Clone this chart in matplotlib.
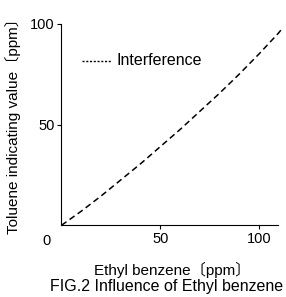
import matplotlib
matplotlib.use("Agg")
import matplotlib.pyplot as plt

plt.rcParams['font.family'] = ['Liberation Sans', 'Noto Sans CJK JP', 'DejaVu Sans']

ethyl = [0, 10, 20, 30, 40, 50, 60, 70, 80, 90, 100, 110, 112]
toluene = [0, 7, 14.5, 22.5, 30.5, 39, 47.5, 56.5, 65.5, 75, 85, 95.5, 98]
xticks = [50, 100]
yticks = [50, 100]
series_label = "Interference"

fig = plt.figure(figsize=(2.86, 2.97), dpi=100)
ax = fig.add_axes([0.215, 0.2414, 0.757, 0.6788])

ax.plot(ethyl, toluene, color='black', lw=1.1, ls=(0, (4, 2.5)), clip_on=False)

ax.set_xlim(0, 109.6)
ax.set_ylim(0, 100)
ax.spines['top'].set_visible(False)
ax.spines['right'].set_visible(False)
for s in ax.spines.values():
    s.set_linewidth(0.8)
ax.set_xticks(xticks)
ax.set_yticks(yticks)
ax.set_xticklabels([str(v) for v in xticks])
ax.set_yticklabels([str(v) for v in yticks])
ax.tick_params(length=3, width=0.8, labelsize=10.5, pad=2)

fig.text(47 / 286, 1 - 241 / 297, "0", fontsize=10.5, ha='center', va='center')

# legend
ax.plot([10.5, 25.5], [81.5, 81.5], color='black', lw=1.0, ls=(0, (1.5, 1.2)))
ax.text(28, 81.5, series_label, fontsize=11.5, va='center', ha='left')

fig.text(13 / 286, 1 - 122 / 297, "Toluene indicating value〔ppm〕", rotation=90,
         fontsize=11, ha='center', va='center')
fig.text(172 / 286, 1 - 270 / 297, "Ethyl benzene〔ppm〕", fontsize=11, ha='center', va='center')
fig.text(167 / 286, 1 - 287 / 297, "FIG.2 Influence of Ethyl benzene", fontsize=11.5,
         ha='center', va='center')

fig.savefig("out.png", dpi=100)
